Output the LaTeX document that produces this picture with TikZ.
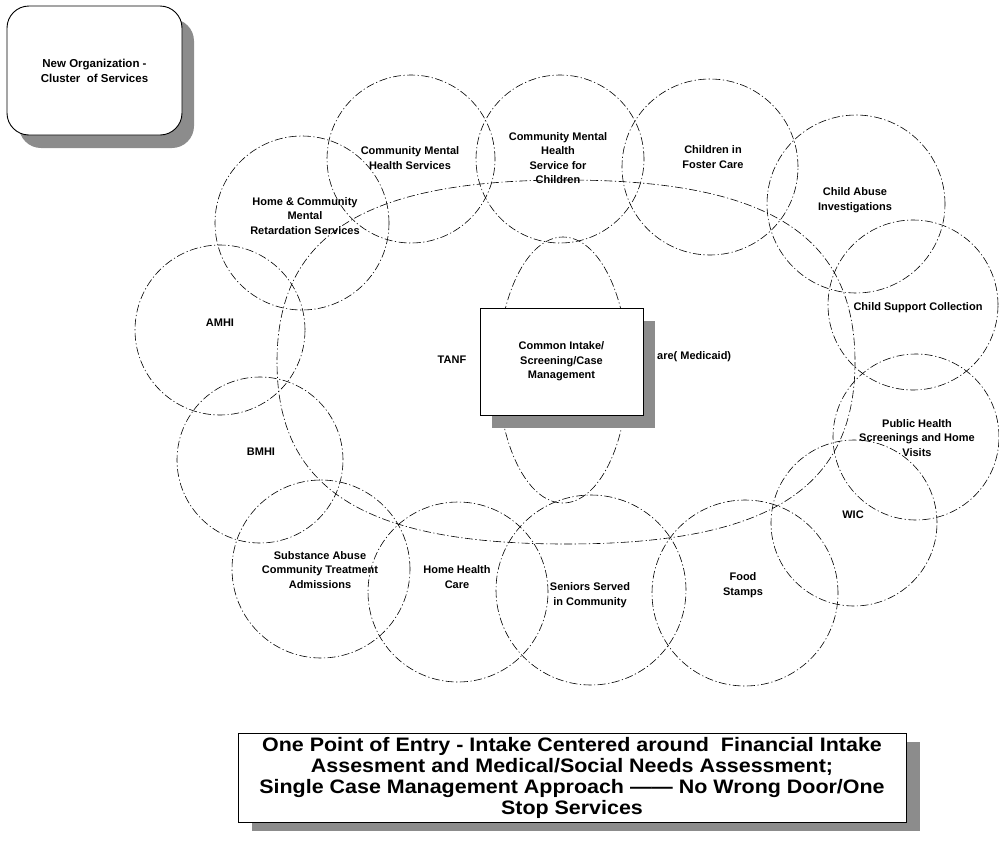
\documentclass[tikz,border=0pt]{standalone}
\usepackage{fontspec}
\setmainfont{Liberation Sans}
\newfontfamily\widefont{Liberation Sans}[FakeStretch=1.1]
\usetikzlibrary{positioning,shapes.geometric,shadows}

\begin{document}
\begin{tikzpicture}[x=1pt, y=-1pt,
  font=\bfseries\fontsize{11}{14.5}\selectfont,
  dashdot/.style={draw, line width=0.6pt, dash pattern=on 8pt off 2.5pt on 1.2pt off 2.5pt},
  svc/.style={circle, dashdot, inner sep=0pt},
  lens/.style={ellipse, dashdot, inner sep=0pt},
  txt/.style={align=center, inner sep=0pt},
  panel/.style={draw, fill=white, line width=0.9pt, align=center, inner sep=0pt},
  shade/.style={drop shadow={shadow xshift=12pt, shadow yshift=-13pt, fill=black!45, opacity=1}},
]
\useasboundingbox (0,0) rectangle (999,841);

% ring of services
\draw[dashdot] (855,362) .. controls (855,489) and (768,544) .. (566,544)
  .. controls (364,544) and (277,489) .. (277,362)
  .. controls (277,235) and (364,180) .. (566,180)
  .. controls (768,180) and (855,235) .. (855,362) -- cycle;
\node[lens, minimum width=130, minimum height=266] (core) at (563,370) {};

\node[svc, minimum size=174] (c-hcmr)  at (302,223) {};
\node[svc, minimum size=168] (c-cmhs)  at (411,159) {};
\node[svc, minimum size=168] (c-cmhsc) at (560,159) {};
\node[svc, minimum size=176] (c-cfc)   at (710,167) {};
\node[svc, minimum size=178] (c-cai)   at (856,204) {};
\node[svc, minimum size=170] (c-csc)   at (913,305) {};
\node[svc, minimum size=166] (c-phs)   at (916,437) {};
\node[svc, minimum size=166] (c-wic)   at (854,523) {};
\node[svc, minimum size=186] (c-fs)    at (745,593) {};
\node[svc, minimum size=190] (c-sen)   at (591,590) {};
\node[svc, minimum size=180] (c-hhc)   at (458,592) {};
\node[svc, minimum size=178] (c-sa)    at (321,569) {};
\node[svc, minimum size=166] (c-bmhi)  at (260,460) {};
\node[svc, minimum size=170] (c-amhi)  at (220,330) {};

\node[txt] (t-hcmr)  at (305,216) {Home \& Community\\Mental\\Retardation Services};
\node[txt] (t-cmhs)  at (410,158) {Community Mental\\Health Services};
\node[txt] (t-cmhsc) at (558,158) {Community Mental\\Health\\Service for\\Children};
\node[txt] (t-cfc)   at (713,157) {Children in\\Foster Care};
\node[txt] (t-cai)   at (855,200) {Child Abuse\\Investigations};
\node[txt] (t-csc)   at (918,308) {Child Support Collection};
\node[txt] (t-phs)   at (917,438) {Public Health\\Screenings and Home\\Visits};
\node[txt] (t-wic)   at (853,515) {WIC};
\node[txt] (t-fs)    at (743,585) {Food\\Stamps};
\node[txt] (t-sen)   at (590,595) {Seniors Served\\in Community};
\node[txt] (t-hhc)   at (457,577) {Home Health\\Care};
\node[txt] (t-sa)    at (320,570) {Substance Abuse\\Community Treatment\\Admissions};
\node[txt] (t-bmhi)  at (261,452) {BMHI};
\node[txt] (t-amhi)  at (220,323) {AMHI};
\node[txt] (t-tanf)  at (452,360) {TANF};
\node[txt, anchor=west] (t-med) at (657,357) {are( Medicaid)};

% boxes
\node[panel, shade, minimum width=163, minimum height=107] (intake) at (561.5,361.5)
  {Common Intake/\\Screening/Case\\Management};
\node[panel, shade, rounded corners=22, minimum width=175, minimum height=129,
  font=\bfseries\fontsize{11.5}{15}\selectfont] (neworg) at (94.5,70.5)
  {New Organization -\\Cluster~ of Services};
\node[panel, minimum width=668, minimum height=89, font=\widefont\bfseries\fontsize{19.5}{21}\selectfont,
  drop shadow={shadow xshift=14pt, shadow yshift=-9pt, fill=black!45, opacity=1}] (entry) at (572,777.5)
  {One Point of Entry - Intake Centered around~ Financial Intake\\
   Assesment and Medical/Social Needs Assessment;\\
   Single Case Management Approach —— No Wrong Door/One\\
   Stop Services};
\end{tikzpicture}
\end{document}
